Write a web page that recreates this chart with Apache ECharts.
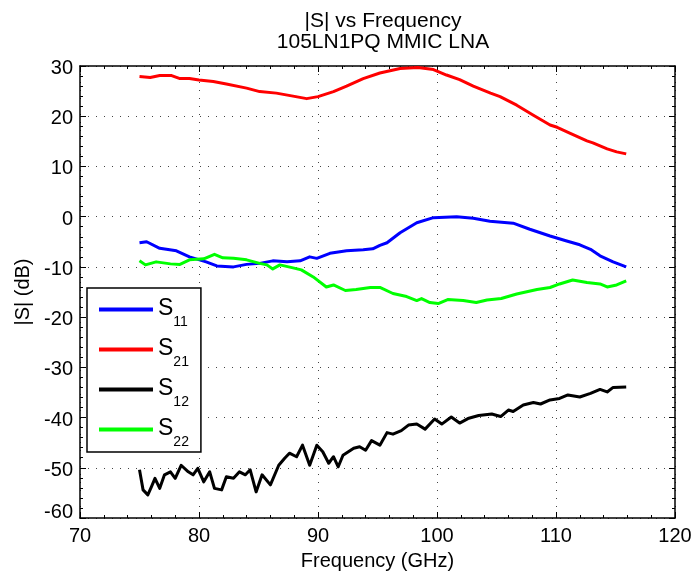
<!DOCTYPE html>
<html>
<head>
<meta charset="utf-8">
<script src="https://cdn.jsdelivr.net/npm/echarts@6/dist/echarts.min.js"></script>
<style>
  html, body { margin: 0; background: #fff; }
  #chart { width: 698px; height: 577px; }
</style>
</head>
<body>
<div id="chart"></div>
<script>
// values (GHz, dB)
const s11Freq = [75.0, 75.6, 76.7, 78.1, 79.2, 80.6, 81.5, 82.9, 84.0, 85.1, 86.2, 87.4, 88.5, 89.3, 89.9, 91.0, 92.4, 93.8, 94.6, 95.2, 95.8, 96.9, 98.3, 99.7, 101.65, 103.05, 104.45, 106.4, 107.8, 109.5, 110.9, 112.0, 112.9, 113.7, 114.8, 115.9];
const s11Mag = [-5.2, -5.0, -6.3, -6.8, -8.0, -9.0, -9.8, -10.0, -9.5, -9.3, -8.8, -9.0, -8.8, -8.0, -8.3, -7.3, -6.8, -6.6, -6.4, -5.7, -5.2, -3.2, -1.2, -0.2, 0, -0.3, -0.9, -1.3, -2.5, -3.85, -4.85, -5.6, -6.5, -7.8, -9.0, -10.0];

const s21Freq = [75.0, 75.9, 76.7, 77.7, 78.4, 79.2, 80, 81.2, 82.3, 84, 85.1, 86.5, 87.9, 89.05, 90, 91.3, 92.4, 93.8, 95.2, 96.9, 98.4, 99.7, 100.8, 101.9, 103.05, 104.5, 105.3, 106.7, 108.1, 109.5, 110.1, 111.2, 112.6, 113.1, 114.3, 115.1, 115.9];
const s21Mag = [27.9, 27.7, 28.1, 28.1, 27.5, 27.5, 27.2, 26.9, 26.4, 25.6, 24.9, 24.6, 24.0, 23.5, 23.9, 24.9, 26.0, 27.5, 28.6, 29.5, 29.7, 29.3, 28.2, 27.3, 26.0, 24.6, 23.9, 22.2, 20.2, 18.25, 17.8, 16.6, 15.1, 14.7, 13.5, 12.9, 12.5];

const s12Freq = [75.0, 75.3, 75.7, 76.0, 76.3, 76.7, 77.1, 77.6, 78.0, 78.5, 79.1, 79.5, 79.9, 80.4, 80.9, 81.3, 81.9, 82.3, 82.9, 83.4, 83.9, 84.3, 84.8, 85.3, 86.0, 86.7, 87.2, 87.6, 88.2, 88.7, 89.3, 89.9, 90.4, 90.9, 91.3, 91.7, 92.1, 93.0, 93.5, 94.0, 94.5, 95.2, 95.8, 96.3, 97.0, 97.6, 98.3, 99.0, 99.8, 100.4, 101.2, 101.9, 102.6, 103.5, 104.6, 105.35, 106.0, 106.4, 107.25, 108.1, 108.7, 109.5, 110.3, 111.0, 112.0, 112.9, 113.7, 114.3, 114.8, 115.9];
const s12Mag = [-50.4, -54.4, -55.4, -53.8, -52.1, -54.1, -51.4, -50.8, -52.1, -49.5, -50.8, -51.4, -50.1, -52.8, -50.8, -54.1, -54.4, -51.8, -52.1, -50.8, -51.4, -50.4, -54.8, -51.4, -53.4, -49.5, -48.1, -47.1, -47.8, -45.5, -49.5, -45.5, -46.8, -49.1, -47.8, -49.8, -47.5, -46.1, -45.8, -46.5, -44.6, -45.5, -43.0, -43.3, -42.6, -41.5, -41.3, -42.3, -40.3, -41.3, -39.9, -41.1, -40.2, -39.6, -39.3, -39.8, -38.5, -38.8, -37.5, -37.0, -37.3, -36.5, -36.2, -35.5, -35.9, -35.2, -34.4, -34.9, -34.0, -33.9];

const s22Freq = [75.0, 75.5, 76.4, 77.6, 78.4, 79.2, 80.4, 81.3, 82.0, 82.9, 84.0, 85.1, 85.7, 86.2, 86.8, 87.9, 88.6, 89.6, 90.7, 91.3, 92.3, 93.2, 94.4, 95.2, 96.3, 97.45, 98.3, 98.7, 99.4, 100.1, 100.9, 102.2, 103.3, 104.2, 105.4, 106.7, 108.4, 109.5, 110.3, 111.4, 112.6, 113.7, 114.3, 115.1, 115.9];
const s22Mag = [-8.8, -9.6, -9.0, -9.4, -9.5, -8.6, -8.4, -7.5, -8.2, -8.3, -8.6, -9.3, -9.6, -10.4, -9.6, -10.2, -10.6, -12.0, -14.0, -13.6, -14.7, -14.5, -14.1, -14.1, -15.3, -15.9, -16.7, -16.3, -17.1, -17.3, -16.5, -16.7, -17.1, -16.6, -16.3, -15.4, -14.5, -14.1, -13.4, -12.6, -13.1, -13.4, -14.0, -13.6, -12.8];

const seriesNames = ['S11', 'S21', 'S12', 'S22'];
const seriesColors = ['#0000ff', '#ff0000', '#000000', '#00ff00'];

const xMin = 70, xMax = 120, xStep = 10;
const yMin = -60, yMax = 30, yStep = 10;

const zip = (xs, ys) => xs.map((x, i) => [x, ys[i]]);
const seriesData = [zip(s11Freq, s11Mag), zip(s21Freq, s21Mag), zip(s12Freq, s12Mag), zip(s22Freq, s22Mag)];

const font = 'Liberation Sans, Arial, sans-serif';
const chart = echarts.init(document.getElementById('chart'));

const tickStyle = { show: true, inside: true, length: 6, lineStyle: { color: '#000', width: 1 } };
const minorStyle = { show: true, splitNumber: 5, length: 3, lineStyle: { color: '#000', width: 1 } };
const gridLine = { show: true, lineStyle: { color: '#444', width: 1, type: [1, 7] } };
const edge = { show: true, onZero: false, lineStyle: { color: '#000', width: 1.5 } };

// legend sample line sits a little above the middle of the label (S + subscript)
const legendIcon = 'path://M0,17 M0,0 L54,0 L54,4 L0,4 Z';

chart.setOption({
  animation: false,
  backgroundColor: '#fff',
  title: {
    text: '|S| vs Frequency\n105LN1PQ MMIC LNA',
    left: 378,
    top: 6,
    textAlign: 'center',
    textStyle: { fontFamily: font, fontSize: 21, fontWeight: 'normal', color: '#000', lineHeight: 21 }
  },
  grid: { left: 80, top: 66, width: 595, height: 452 },
  legend: {
    orient: 'vertical',
    left: 87,
    top: 288,
    padding: [9, 12, 3, 12],
    itemGap: 8,
    itemWidth: 54,
    itemHeight: 17,
    icon: legendIcon,
    backgroundColor: '#fff',
    borderColor: '#000',
    borderWidth: 1.5,
    data: seriesNames,
    formatter: name => '{s|S}{n|' + name.slice(1) + '}',
    textStyle: {
      fontFamily: font,
      color: '#000',
      rich: {
        s: { fontFamily: font, fontSize: 23, lineHeight: 26, color: '#000', padding: [0, 0, 9, 0], verticalAlign: 'bottom' },
        n: { fontFamily: font, fontSize: 14, lineHeight: 16, color: '#000', verticalAlign: 'bottom' }
      }
    }
  },
  xAxis: [
    {
      type: 'value', min: xMin, max: xMax, interval: xStep,
      name: 'Frequency (GHz)', nameLocation: 'middle', nameGap: 33,
      nameTextStyle: { fontFamily: font, fontSize: 20, color: '#000' },
      axisLine: edge, axisTick: tickStyle, minorTick: minorStyle,
      axisLabel: { fontFamily: font, fontSize: 20, color: '#000', margin: 8 },
      splitLine: gridLine
    },
    {
      type: 'value', min: xMin, max: xMax, interval: xStep, position: 'top',
      axisLine: edge, axisTick: tickStyle, minorTick: minorStyle,
      axisLabel: { show: false }, splitLine: { show: false }
    }
  ],
  yAxis: [
    {
      type: 'value', min: yMin, max: yMax, interval: yStep,
      name: '|S| (dB)', nameLocation: 'middle', nameGap: 47,
      nameTextStyle: { fontFamily: font, fontSize: 20, color: '#000' },
      axisLine: edge, axisTick: tickStyle, minorTick: minorStyle,
      axisLabel: {
        fontFamily: font, fontSize: 20, color: '#000', margin: 7,
        padding: [5, 0, 0, 0],
        formatter: v => (v === yMin ? '{lo|' + v + '}' : String(v)),
        rich: { lo: { fontFamily: font, fontSize: 20, color: '#000', padding: [0, 0, 16, 0] } }
      },
      splitLine: gridLine
    },
    {
      type: 'value', min: yMin, max: yMax, interval: yStep, position: 'right',
      axisLine: edge, axisTick: tickStyle, minorTick: minorStyle,
      axisLabel: { show: false }, splitLine: { show: false }
    }
  ],
  series: seriesNames.map((name, i) => ({
    name: name,
    type: 'line',
    data: seriesData[i],
    showSymbol: false,
    symbol: 'none',
    color: seriesColors[i],
    lineStyle: { color: seriesColors[i], width: 3, join: 'round' }
  }))
});
</script>
</body>
</html>
